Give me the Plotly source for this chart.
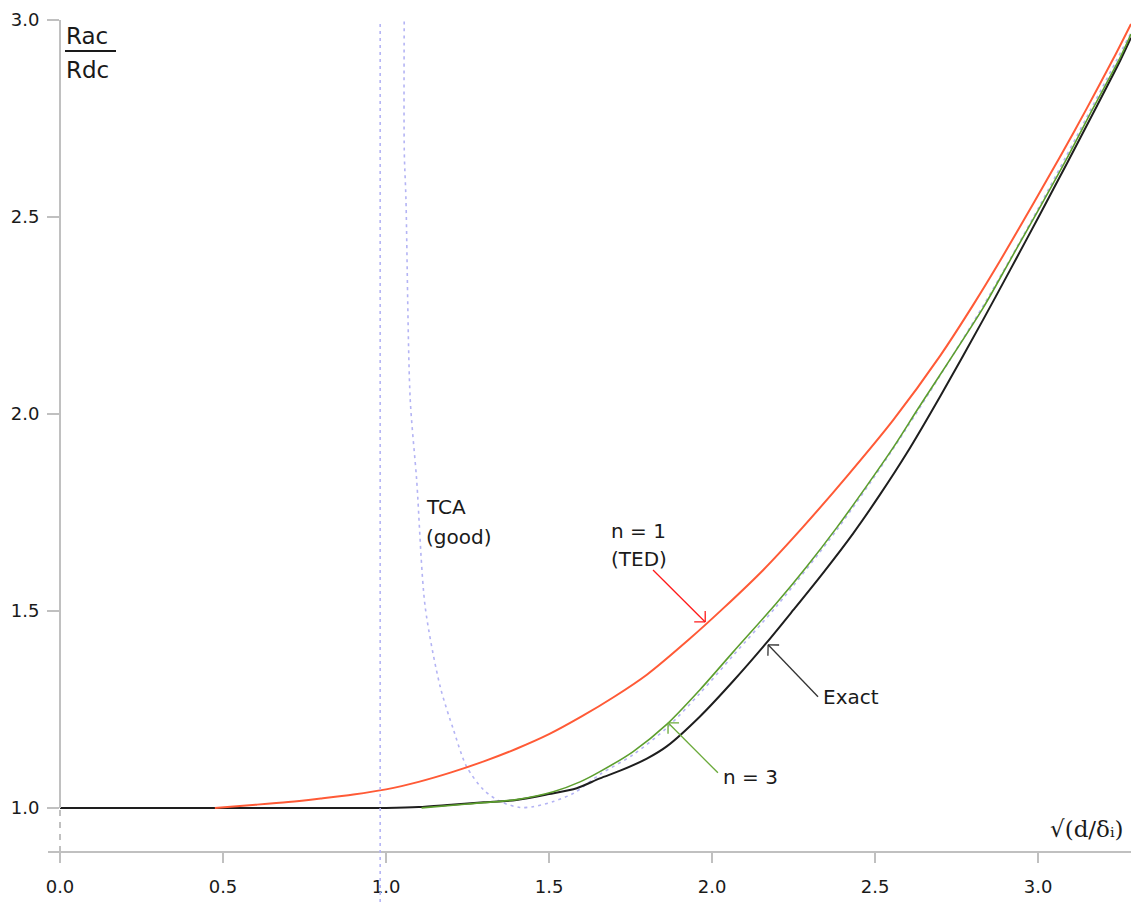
import math
import plotly.graph_objects as go

# x = sqrt(d / delta_i), y = Rac / Rdc
exact_x = [0.0, 0.5, 1.0, 1.10, 1.20, 1.30, 1.40, 1.50, 1.585, 1.656, 1.72, 1.80, 1.861,
           1.963, 2.065, 2.168, 2.250, 2.342, 2.433, 2.515, 2.597, 2.70, 2.832, 2.914,
           3.006, 3.088, 3.170, 3.252, 3.285]
exact_y = [1.0, 1.0, 1.0, 1.002, 1.008, 1.014, 1.020, 1.035, 1.050, 1.075, 1.095, 1.125, 1.156,
           1.232, 1.322, 1.420, 1.503, 1.598, 1.697, 1.795, 1.900, 2.045, 2.240, 2.365,
           2.507, 2.635, 2.765, 2.897, 2.955]

n3_x = [1.109, 1.25, 1.40, 1.513, 1.595, 1.656, 1.758, 1.861, 1.963, 2.065, 2.198, 2.290,
        2.383, 2.475, 2.556, 2.633, 2.832, 2.914, 3.006, 3.088, 3.170, 3.252, 3.285]
n3_y = [1.0, 1.010, 1.021, 1.041, 1.066, 1.092, 1.143, 1.212, 1.300, 1.396, 1.520, 1.612,
        1.712, 1.818, 1.915, 2.015, 2.270, 2.390, 2.525, 2.648, 2.778, 2.905, 2.964]

ted_x = [0.475, 0.60, 0.70, 0.80, 0.90, 1.00, 1.10, 1.20, 1.30, 1.40, 1.50, 1.60, 1.70,
         1.80, 1.927, 2.035, 2.157, 2.280, 2.413, 2.556, 2.70, 2.802, 2.883, 2.986, 3.067,
         3.149, 3.231, 3.285]
ted_y = [1.0, 1.008, 1.015, 1.024, 1.034, 1.047, 1.066, 1.090, 1.118, 1.150, 1.187, 1.232,
         1.282, 1.338, 1.426, 1.507, 1.604, 1.714, 1.841, 1.985, 2.148, 2.278, 2.388, 2.535,
         2.652, 2.775, 2.902, 2.990]

tca_x = [1.056, 1.056, 1.061, 1.074, 1.094, 1.120, 1.166, 1.207, 1.247, 1.299, 1.350, 1.411,
         1.451, 1.513, 1.575, 1.656, 1.758, 1.861, 1.963, 2.065, 2.198, 2.383, 2.556, 2.832,
         3.006, 3.285]
tca_y = [3.05, 2.666, 2.548, 2.04, 1.832, 1.511, 1.308, 1.198, 1.105, 1.046, 1.016, 1.001,
         1.003, 1.016, 1.037, 1.085, 1.135, 1.203, 1.291, 1.387, 1.512, 1.706, 1.912, 2.275,
         2.530, 2.968]

tca_asymptote_x = 0.982

x_ticks = [0.0, 0.5, 1.0, 1.5, 2.0, 2.5, 3.0]
x_tick_text = ["0.0", "0.5", "1.0", "1.5", "2.0", "2.5", "3.0"]
y_ticks = [1.0, 1.5, 2.0, 2.5, 3.0]
y_tick_text = ["1.0", "1.5", "2.0", "2.5", "3.0"]

X_RANGE = [0.0, 3.285]
Y_RANGE = [0.888, 3.005]

W, H = 1131, 902
L, R, T, B = 60, 1131, 18, 852

AXIS_GREY = "#c0c0c0"
TEXT = "#1a1a1a"
FONT = "DejaVu Sans"


def to_px(x, y):
    px = L + (x - X_RANGE[0]) / (X_RANGE[1] - X_RANGE[0]) * (R - L)
    py = B - (y - Y_RANGE[0]) / (Y_RANGE[1] - Y_RANGE[0]) * (B - T)
    return px, py


def to_paper(px, py):
    return (px - L) / (R - L), (B - py) / (B - T)


fig = go.Figure()

smooth = dict(shape="spline", smoothing=0.8)
fig.add_trace(go.Scatter(x=tca_x, y=tca_y, mode="lines",
                         line=dict(color="#b4b4f4", width=1.6, dash="3px,4px", **smooth)))
fig.add_trace(go.Scatter(x=exact_x, y=exact_y, mode="lines",
                         line=dict(color="#1e1e1e", width=2, **smooth)))
fig.add_trace(go.Scatter(x=n3_x, y=n3_y, mode="lines",
                         line=dict(color="#5c9e2e", width=1.6, **smooth)))
fig.add_trace(go.Scatter(x=ted_x, y=ted_y, mode="lines",
                         line=dict(color="#ff5a36", width=2, **smooth)))

shapes = []
# y axis: solid above 1.0, dashed below
shapes.append(dict(type="line", xref="paper", yref="y", x0=0, x1=0, y0=1.0, y1=3.0,
                   line=dict(color=AXIS_GREY, width=2)))
shapes.append(dict(type="line", xref="paper", yref="y", x0=0, x1=0, y0=Y_RANGE[0], y1=1.0,
                   line=dict(color=AXIS_GREY, width=2, dash="6px,6px")))
# x axis line, running slightly past the y axis
shapes.append(dict(type="line", xref="paper", yref="paper", x0=-12 / (R - L), x1=1, y0=0, y1=0,
                   line=dict(color=AXIS_GREY, width=2)))
# vertical dotted asymptote
shapes.append(dict(type="line", xref="x", yref="paper", x0=tca_asymptote_x, x1=tca_asymptote_x,
                   y0=-(H - B) / (B - T), y1=(B - 20) / (B - T),
                   line=dict(color="#b4b4f4", width=1.6, dash="3px,4px")))
# fraction bar of the y title
bx0, by0 = to_paper(65, 51)
bx1, _ = to_paper(116, 51)
shapes.append(dict(type="line", xref="paper", yref="paper", x0=bx0, x1=bx1, y0=by0, y1=by0,
                   line=dict(color=TEXT, width=2)))


def arrow(tail, tip, color):
    tx, ty = to_px(*tail)
    hx, hy = to_px(*tip)
    dx, dy = tx - hx, ty - hy
    n = math.hypot(dx, dy)
    ux, uy = dx / n, dy / n
    out = [dict(type="line", xref="paper", yref="paper",
                x0=to_paper(tx, ty)[0], y0=to_paper(tx, ty)[1],
                x1=to_paper(hx, hy)[0], y1=to_paper(hx, hy)[1],
                line=dict(color=color, width=1.3))]
    for a in (math.pi / 4, -math.pi / 4):
        rx = ux * math.cos(a) - uy * math.sin(a)
        ry = ux * math.sin(a) + uy * math.cos(a)
        ex, ey = hx + 11 * rx, hy + 11 * ry
        out.append(dict(type="line", xref="paper", yref="paper",
                        x0=to_paper(hx, hy)[0], y0=to_paper(hx, hy)[1],
                        x1=to_paper(ex, ey)[0], y1=to_paper(ex, ey)[1],
                        line=dict(color=color, width=1.3)))
    return out


shapes += arrow((1.819, 1.604), (1.979, 1.472), "#ff1a1a")
shapes += arrow((2.325, 1.282), (2.172, 1.414), "#333333")
shapes += arrow((2.018, 1.089), (1.865, 1.216), "#6aaa3a")

annotations = []


def label(text, px, py, size=19, xanchor="left", family=FONT):
    xp, yp = to_paper(px, py)
    annotations.append(dict(text=text, xref="paper", yref="paper", x=xp, y=yp,
                            xanchor=xanchor, yanchor="middle", showarrow=False,
                            font=dict(family=family, size=size, color=TEXT)))


label("Rac", 64, 36, size=23)
label("Rdc", 64, 70, size=23)
label("TCA", 424, 507, size=20)
label("(good)", 424, 537, size=20)
label("n = 1", 609, 531, size=20)
label("(TED)", 609, 559, size=20)
label("Exact", 821, 697, size=20)
label("n = 3", 721, 777, size=20)
label("√(d/δᵢ)", 1126, 829, size=23, xanchor="right", family="DejaVu Serif")

fig.update_layout(
    width=W, height=H,
    margin=dict(l=L, r=W - R, t=T, b=H - B),
    plot_bgcolor="white", paper_bgcolor="white",
    showlegend=False,
    shapes=shapes,
    annotations=annotations,
    xaxis=dict(range=X_RANGE, tickvals=x_ticks, ticktext=x_tick_text,
               ticks="outside", ticklen=10, tickwidth=2, tickcolor=AXIS_GREY,
               showline=False, showgrid=False, zeroline=False,
               ticklabelstandoff=8,
               tickfont=dict(family=FONT, size=18, color=TEXT)),
    yaxis=dict(range=Y_RANGE, tickvals=y_ticks, ticktext=y_tick_text,
               ticks="outside", ticklen=12, tickwidth=2, tickcolor=AXIS_GREY,
               showline=False, showgrid=False, zeroline=False,
               ticklabelstandoff=4,
               tickfont=dict(family=FONT, size=18, color=TEXT)),
)

fig.write_html("out.html")
